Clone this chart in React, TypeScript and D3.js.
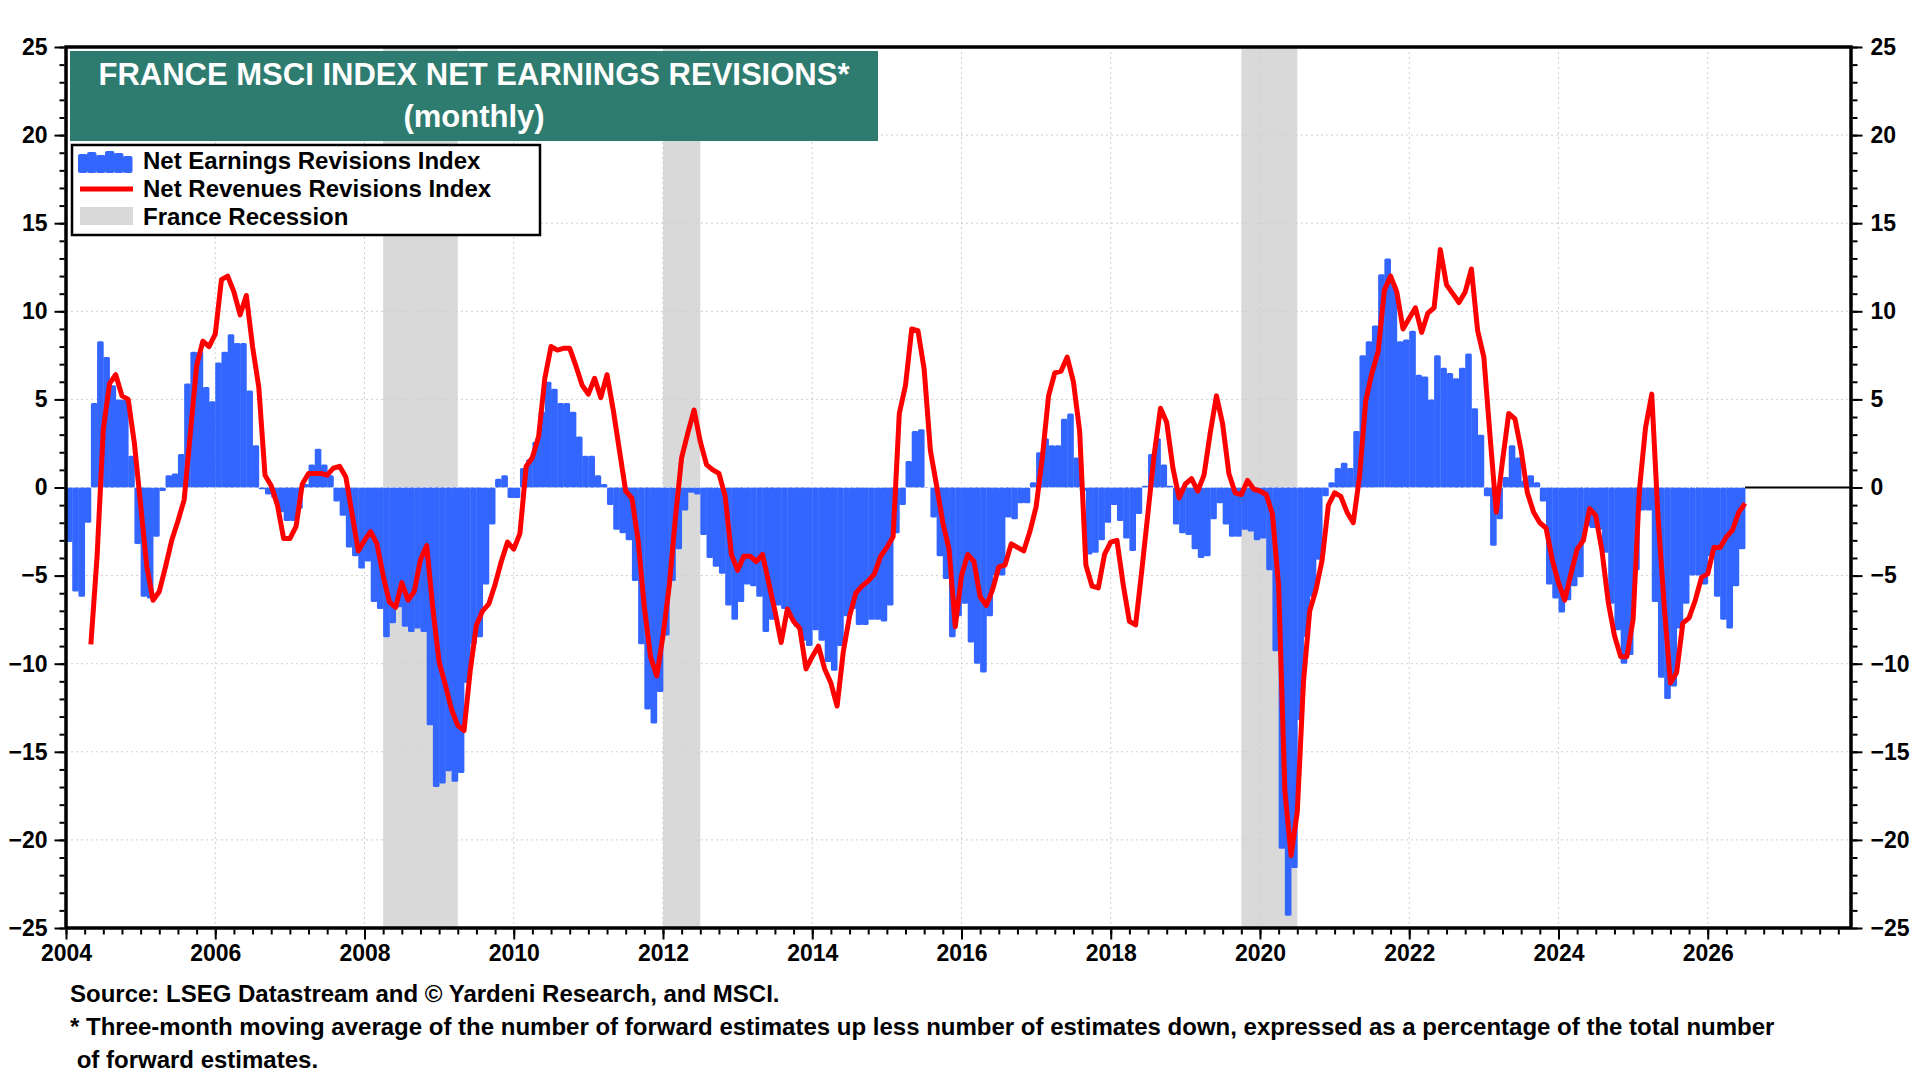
import { useEffect, useRef } from "react"
import * as d3 from "d3"

// monthly series, month index 0 = Jan 2004
const START_YEAR = 2004

// Net Earnings Revisions Index, Jan 2004 onward
const earnings = [
  -3.1, -5.9, -6.2, -2.0, 4.8, 8.3, 7.4, 5.8, 5.0, 5.0,
  1.8, -3.2, -6.2, -6.3, -2.8, -0.2, 0.7, 0.8, 1.9, 5.9,
  7.7, 7.7, 5.7, 4.9, 7.1, 7.7, 8.7, 8.2, 8.2, 5.5,
  2.4, -0.1, -0.4, -0.6, -1.4, -1.9, -1.9, -1.2, 0.2, 1.3,
  2.2, 1.3, 0.7, -0.8, -1.6, -3.4, -3.9, -4.6, -4.2, -6.5,
  -6.9, -8.5, -7.7, -6.8, -7.9, -8.2, -8.0, -8.2, -13.5, -17.0,
  -16.8, -16.1, -16.7, -16.2, -11.1, -8.9, -8.5, -5.5, -2.1, 0.5,
  0.7, -0.6, -0.6, 1.1, 1.6, 2.6, 4.3, 6.0, 5.6, 4.8,
  4.8, 4.3, 2.9, 1.8, 1.8, 0.7, 0.2, -1.0, -2.4, -2.6,
  -3.0, -5.3, -8.9, -12.6, -13.4, -11.6, -8.4, -5.3, -3.5, -1.3,
  -0.3, -0.4, -2.7, -4.0, -4.5, -4.9, -6.7, -7.5, -6.5, -5.5,
  -5.6, -6.2, -8.2, -7.5, -6.7, -6.9, -7.3, -7.9, -8.7, -9.0,
  -8.1, -8.7, -9.9, -10.4, -9.0, -7.3, -6.9, -7.8, -7.8, -7.5,
  -7.5, -7.6, -6.7, -2.6, -1.0, 1.5, 3.2, 3.3, 0.0, -1.7,
  -3.9, -5.2, -8.5, -7.3, -6.6, -8.8, -10.0, -10.5, -7.3, -5.0,
  -5.0, -1.7, -1.8, -0.9, -0.9, 0.3, 2.0, 2.8, 2.4, 2.4,
  3.9, 4.2, 1.7, -0.2, -3.8, -3.7, -3.0, -2.0, -1.0, -1.9,
  -2.9, -3.6, -1.5, 0.1, 1.9, 2.8, 1.3, 0.1, -2.1, -2.6,
  -2.7, -3.5, -4.0, -3.9, -1.8, -0.9, -2.1, -2.8, -2.8, -2.4,
  -2.5, -3.0, -2.9, -4.7, -9.3, -20.5, -24.3, -21.6, -13.2, -8.5,
  -6.2, -4.1, -0.5, 0.3, 1.1, 1.4, 1.1, 3.2, 7.5, 8.3,
  9.2, 12.1, 13.0, 11.5, 8.3, 8.4, 8.9, 6.4, 6.3, 5.0,
  7.5, 6.8, 6.5, 6.2, 6.8, 7.6, 4.5, 3.0, -0.5, -3.3,
  -1.8, 0.6, 2.4, 1.7, 0.4, 0.7, 0.3, -0.8, -5.5, -6.3,
  -7.1, -6.4, -5.6, -5.1, -2.2, -2.3, -2.4, -3.7, -6.6, -8.1,
  -10.0, -9.5, -4.7, -1.3, -1.3, -6.5, -10.8, -12.0, -11.3, -8.0,
  -6.6, -5.0, -5.0, -5.5, -3.9, -6.2, -7.5, -8.0, -5.6, -3.5,
]

// Net Revenues Revisions Index, May 2004 onward
const revenuesStartMonth = 4
const revenues = [
  -8.9, -3.9, 3.3, 5.9, 6.4, 5.2,
  5.0, 2.5, -1.0, -4.5, -6.4, -5.9, -4.5, -3.0, -1.9, -0.7,
  3.1, 6.9, 8.3, 8.0, 8.7, 11.8, 12.0, 11.1, 9.8, 10.9,
  8.0, 5.7, 0.7, 0.1, -1.0, -2.9, -2.9, -2.2, 0.2, 0.8,
  0.8, 0.8, 0.7, 1.1, 1.2, 0.6, -1.5, -3.6, -3.0, -2.5,
  -3.2, -5.0, -6.5, -6.8, -5.4, -6.4, -5.9, -4.1, -3.3, -6.9,
  -9.9, -11.2, -12.6, -13.5, -13.8, -10.4, -7.8, -7.0, -6.6, -5.5,
  -4.2, -3.1, -3.5, -2.6, 1.2, 1.7, 2.9, 6.2, 8.0, 7.8,
  7.9, 7.9, 6.9, 5.8, 5.3, 6.2, 5.1, 6.4, 4.4, 2.1,
  -0.2, -0.6, -3.0, -6.8, -9.6, -10.7, -8.4, -5.6, -1.7, 1.7,
  3.1, 4.4, 2.6, 1.3, 1.0, 0.8, -0.5, -3.8, -4.7, -3.9,
  -3.9, -4.2, -3.8, -5.4, -7.0, -8.8, -6.9, -7.6, -8.0, -10.3,
  -9.6, -9.0, -10.3, -11.1, -12.4, -9.3, -7.3, -6.0, -5.6, -5.3,
  -4.9, -3.9, -3.4, -2.8, 4.2, 5.8, 9.0, 8.9, 6.7, 2.1,
  0.1, -2.0, -3.5, -7.9, -5.0, -3.8, -4.2, -6.2, -6.7, -5.8,
  -4.5, -4.4, -3.2, -3.4, -3.6, -2.5, -1.1, 1.7, 5.2, 6.5,
  6.6, 7.4, 6.0, 3.2, -4.4, -5.6, -5.7, -3.8, -3.1, -3.0,
  -5.5, -7.6, -7.8, -4.7, -1.4, 1.9, 4.5, 3.7, 1.1, -0.6,
  0.2, 0.5, -0.2, 0.7, 3.1, 5.2, 3.6, 0.8, -0.3, -0.4,
  0.4, -0.1, -0.2, -0.4, -1.5, -5.6, -17.2, -20.9, -18.4, -11.0,
  -7.0, -5.8, -4.1, -1.0, -0.3, -0.5, -1.4, -2.0, 0.6, 4.9,
  6.5, 7.7, 11.2, 12.0, 11.1, 9.0, 9.6, 10.2, 8.8, 9.9,
  10.2, 13.5, 11.5, 11.0, 10.5, 11.1, 12.4, 8.9, 7.4, 2.9,
  -1.4, 1.5, 4.2, 3.9, 2.1, -0.3, -1.4, -2.0, -2.3, -4.1,
  -5.4, -6.4, -4.9, -3.5, -3.0, -1.2, -1.6, -3.6, -6.5, -8.4,
  -9.6, -9.6, -7.5, -0.2, 3.4, 5.3, -1.6, -6.7, -11.1, -10.5,
  -7.7, -7.4, -6.4, -5.1, -4.9, -3.4, -3.4, -2.8, -2.4, -1.4, -0.9,
]

// France recessions, decimal years
const recessions: [number, number][] = [
  [2008.25, 2009.25],
  [2012.0, 2012.5],
  [2019.75, 2020.5],
]

const yTicks = [-25, -20, -15, -10, -5, 0, 5, 10, 15, 20, 25]
const xTickYears = [2004, 2006, 2008, 2010, 2012, 2014, 2016, 2018, 2020, 2022, 2024, 2026]

const titleLines = ["FRANCE MSCI INDEX NET EARNINGS REVISIONS*", "(monthly)"]
const legendLabels = ["Net Earnings Revisions Index", "Net Revenues Revisions Index", "France Recession"]
const footnotes = [
  "Source: LSEG Datastream and © Yardeni Research, and MSCI.",
  "* Three-month moving average of the number of forward estimates up less number of estimates down, expressed as a percentage of the total number",
  " of forward estimates.",
]

const BLUE = "#3366ff"
const RED = "#ff0000"
const GREY = "#d9d9d9"
const TEAL = "#2e7b70"
const FONT = "'Liberation Sans', Arial, sans-serif"

const monthToYear = (m: number) => START_YEAR + m / 12

export default function App() {
  const svgRef = useRef<SVGSVGElement | null>(null)

  useEffect(() => {
    document.body.style.margin = "0"
    if (!svgRef.current) return

    const svg = d3.select(svgRef.current)
    svg.selectAll("*").remove()

    const width = 1920
    const height = 1080
    const plot = { left: 66, right: 1851, top: 47, bottom: 928 }

    svg.attr("width", width).attr("height", height).attr("viewBox", `0 0 ${width} ${height}`)
    svg.append("rect").attr("width", width).attr("height", height).attr("fill", "#fff")

    const x = d3.scaleLinear().domain([2004, 2027.92]).range([plot.left, plot.right])
    const y = d3.scaleLinear().domain([-25, 25]).range([plot.bottom, plot.top])

    // recessions
    svg
      .append("g")
      .selectAll("rect")
      .data(recessions)
      .join("rect")
      .attr("x", (d) => x(d[0]))
      .attr("width", (d) => x(d[1]) - x(d[0]))
      .attr("y", plot.top)
      .attr("height", plot.bottom - plot.top)
      .attr("fill", GREY)

    // grid
    const grid = svg.append("g").attr("stroke", "#cfcfcf").attr("stroke-width", 1).attr("stroke-dasharray", "2 3")
    grid
      .selectAll("line.h")
      .data(yTicks.filter((t) => t > -25 && t < 25))
      .join("line")
      .attr("x1", plot.left)
      .attr("x2", plot.right)
      .attr("y1", (d) => y(d))
      .attr("y2", (d) => y(d))
    grid
      .selectAll("line.v")
      .data(xTickYears.filter((t) => t > 2004))
      .join("line")
      .attr("class", "v")
      .attr("x1", (d) => x(d))
      .attr("x2", (d) => x(d))
      .attr("y1", plot.top)
      .attr("y2", plot.bottom)

    // bars
    svg
      .append("g")
      .selectAll("rect")
      .data(earnings)
      .join("rect")
      .attr("x", (_, i) => x(monthToYear(i)))
      .attr("width", (_, i) => x(monthToYear(i + 1)) - x(monthToYear(i)) + 0.4)
      .attr("y", (d) => y(Math.max(d, 0)))
      .attr("height", (d) => Math.abs(y(d) - y(0)))
      .attr("rx", 1.5)
      .attr("fill", BLUE)

    const lastBarEnd = x(monthToYear(earnings.length))
    svg
      .append("line")
      .attr("x1", plot.left)
      .attr("x2", lastBarEnd)
      .attr("y1", y(0))
      .attr("y2", y(0))
      .attr("stroke", "#b8c6f0")
      .attr("stroke-width", 1)
      .attr("stroke-dasharray", "3 3")
    svg
      .append("line")
      .attr("x1", lastBarEnd)
      .attr("x2", plot.right)
      .attr("y1", y(0))
      .attr("y2", y(0))
      .attr("stroke", "#000")
      .attr("stroke-width", 2)

    // revenues line
    const line = d3
      .line<number>()
      .x((_, i) => x(monthToYear(i + revenuesStartMonth)))
      .y((d) => y(d))
    svg
      .append("path")
      .datum(revenues)
      .attr("d", line)
      .attr("fill", "none")
      .attr("stroke", RED)
      .attr("stroke-width", 5)
      .attr("stroke-linejoin", "round")

    // frame
    svg
      .append("rect")
      .attr("x", plot.left)
      .attr("y", plot.top)
      .attr("width", plot.right - plot.left)
      .attr("height", plot.bottom - plot.top)
      .attr("fill", "none")
      .attr("stroke", "#000")
      .attr("stroke-width", 3.5)

    const styleAxis = (g: d3.Selection<SVGGElement, unknown, null, undefined>) => {
      g.select(".domain").remove()
      g.selectAll("line").attr("stroke", "#000").attr("stroke-width", 2)
      g.selectAll("text")
        .attr("fill", "#000")
        .attr("font-size", 23)
        .attr("font-weight", 700)
        .attr("font-family", FONT)
    }

    const minorY = d3.range(-25, 26, 1)
    const minorX = d3.range(2004, 2028, 0.25)

    svg
      .append("g")
      .attr("transform", `translate(${plot.left - 1.5},0)`)
      .call(d3.axisLeft(y).tickValues(minorY).tickSize(5).tickFormat(() => ""))
      .call(styleAxis)
    svg
      .append("g")
      .attr("transform", `translate(${plot.left - 1.5},0)`)
      .call(d3.axisLeft(y).tickValues(yTicks).tickSize(10).tickPadding(7).tickFormat(d3.format("d")))
      .call(styleAxis)
    svg
      .append("g")
      .attr("transform", `translate(${plot.right + 1.5},0)`)
      .call(d3.axisRight(y).tickValues(minorY).tickSize(5).tickFormat(() => ""))
      .call(styleAxis)
    svg
      .append("g")
      .attr("transform", `translate(${plot.right + 1.5},0)`)
      .call(d3.axisRight(y).tickValues(yTicks).tickSize(10).tickPadding(8).tickFormat(d3.format("d")))
      .call(styleAxis)
    svg
      .append("g")
      .attr("transform", `translate(0,${plot.bottom + 1.5})`)
      .call(d3.axisBottom(x).tickValues(minorX).tickSize(5).tickFormat(() => ""))
      .call(styleAxis)
    svg
      .append("g")
      .attr("transform", `translate(0,${plot.bottom + 1.5})`)
      .call(d3.axisBottom(x).tickValues(xTickYears).tickSize(10).tickPadding(5).tickFormat(d3.format("d")))
      .call(styleAxis)

    // title box
    const title = svg.append("g")
    title.append("rect").attr("x", 70).attr("y", 51).attr("width", 808).attr("height", 90).attr("fill", TEAL)
    title
      .selectAll("text")
      .data(titleLines)
      .join("text")
      .text((d) => d)
      .attr("x", 474)
      .attr("y", (_, i) => 85 + i * 42)
      .attr("text-anchor", "middle")
      .attr("fill", "#fff")
      .attr("font-size", 31)
      .attr("font-weight", 700)
      .attr("font-family", FONT)

    // legend
    const legend = svg.append("g")
    legend
      .append("rect")
      .attr("x", 72)
      .attr("y", 145)
      .attr("width", 468)
      .attr("height", 90)
      .attr("fill", "#fff")
      .attr("stroke", "#000")
      .attr("stroke-width", 2.5)
    const bumps = [19, 21, 18, 22, 20, 17]
    legend
      .selectAll("rect.bump")
      .data(bumps)
      .join("rect")
      .attr("class", "bump")
      .attr("x", (_, i) => 78 + i * 9)
      .attr("y", (d) => 173 - d)
      .attr("width", 9.5)
      .attr("height", (d) => d)
      .attr("rx", 2)
      .attr("fill", BLUE)
    legend
      .append("line")
      .attr("x1", 80)
      .attr("x2", 133)
      .attr("y1", 189)
      .attr("y2", 189)
      .attr("stroke", RED)
      .attr("stroke-width", 5)
    legend.append("rect").attr("x", 80).attr("y", 207).attr("width", 53).attr("height", 18).attr("fill", GREY)
    legend
      .selectAll("text")
      .data(legendLabels)
      .join("text")
      .text((d) => d)
      .attr("x", 143)
      .attr("y", (_, i) => 169 + i * 28)
      .attr("fill", "#000")
      .attr("font-size", 24)
      .attr("font-weight", 700)
      .attr("font-family", FONT)

    // footnotes
    svg
      .append("g")
      .selectAll("text")
      .data(footnotes)
      .join("text")
      .text((d) => d)
      .attr("x", 70)
      .attr("y", (_, i) => 1002 + i * 33)
      .style("white-space", "pre")
      .attr("fill", "#000")
      .attr("font-size", 24)
      .attr("font-weight", 700)
      .attr("font-family", FONT)
  }, [])

  return (
    <div style={{ position: "absolute", left: 0, top: 0 }}>
      <svg ref={svgRef} />
    </div>
  )
}
